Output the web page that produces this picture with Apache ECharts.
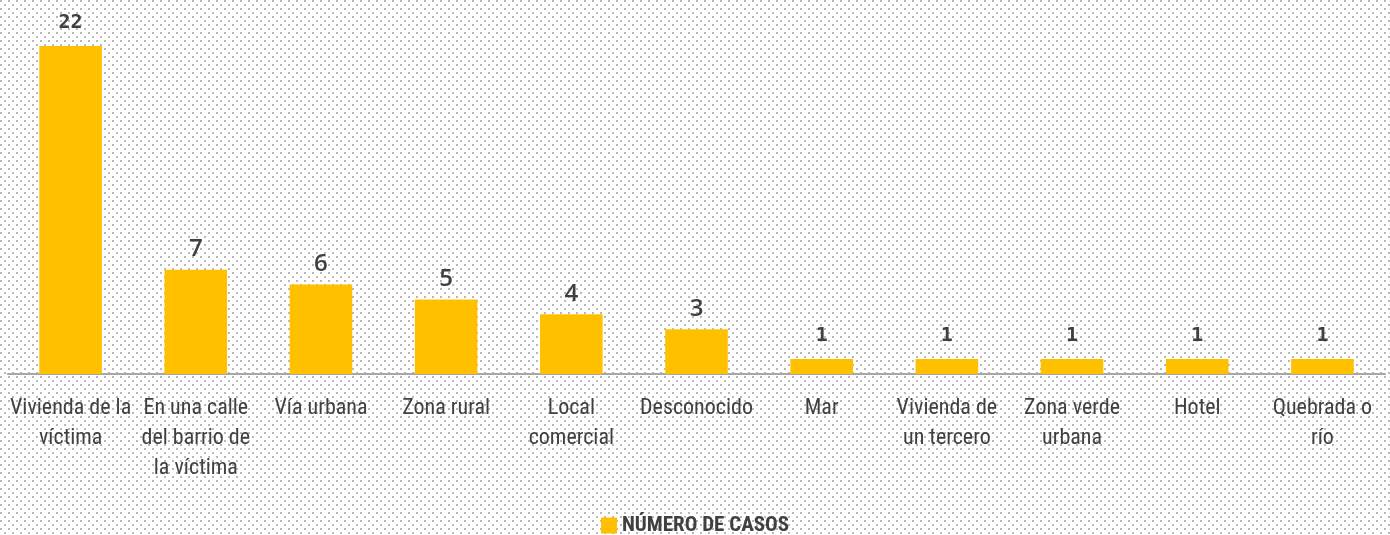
<!DOCTYPE html>
<html>
<head>
<meta charset="utf-8">
<script src="https://cdn.jsdelivr.net/npm/echarts@6/dist/echarts.min.js"></script>
<style>
  html, body { margin: 0; padding: 0; background: #fff; }
  #chart { width: 1390px; height: 535px; }
</style>
</head>
<body>
<div id="chart"></div>
<script>
var categories = [
  "Vivienda de la\nvíctima",
  "En una calle\ndel barrio de\nla víctima",
  "Vía urbana",
  "Zona rural",
  "Local\ncomercial",
  "Desconocido",
  "Mar",
  "Vivienda de\nun tercero",
  "Zona verde\nurbana",
  "Hotel",
  "Quebrada o\nrío"
];
var casos = [22, 7, 6, 5, 4, 3, 1, 1, 1, 1, 1];
var seriesName = "NÚMERO DE CASOS";

// fondo punteado
var tile = document.createElement("canvas");
tile.width = 8;
tile.height = 8;
var ctx = tile.getContext("2d");
ctx.fillStyle = "#fff";
ctx.fillRect(0, 0, 8, 8);
ctx.fillStyle = "#b8b8b8";
ctx.fillRect(0, 0, 2, 2);
ctx.fillRect(4, 4, 2, 2);

var chart = echarts.init(document.getElementById("chart"));

var option = {
  backgroundColor: { image: tile, repeat: "repeat" },
  animation: false,
  grid: { left: 8, right: 5, top: 46, bottom: 161 },
  legend: {
    top: 510,
    left: "center",
    icon: "rect",
    itemWidth: 16,
    itemHeight: 16,
    itemGap: 4,
    textStyle: {
      fontFamily: "Roboto Condensed",
      fontWeight: "bold",
      fontSize: 21,
      color: "#404040"
    },
    data: [seriesName]
  },
  xAxis: {
    type: "category",
    data: categories,
    axisLine: { lineStyle: { color: "#a6a6a6", width: 2 } },
    axisTick: { length: 9, lineStyle: { color: "#a6a6a6", width: 1.5 } },
    axisLabel: {
      interval: 0,
      margin: 19,
      fontFamily: "Roboto Condensed",
      fontSize: 22,
      lineHeight: 30,
      color: "#404040"
    }
  },
  yAxis: {
    type: "value",
    min: 0,
    max: 22,
    show: false,
    splitLine: { show: false }
  },
  series: [
    {
      name: seriesName,
      type: "bar",
      data: casos,
      barCategoryGap: "50%",
      itemStyle: { color: "#FFC000" },
      label: {
        show: true,
        position: "top",
        distance: 8,
        formatter: function (p) {
          return (p.value >= 10 || p.value === 1) ? "{m|" + p.value + "}" : "{s|" + p.value + "}";
        },
        rich: {
          m: {
            fontFamily: "DejaVu Sans Mono",
            fontWeight: "bold",
            fontSize: 20,
            color: "#404040",
            padding: [0, 0, 5, 0]
          },
          s: {
            fontFamily: "Open Sans",
            fontWeight: 600,
            fontSize: 24,
            color: "#404040"
          }
        }
      }
    }
  ]
};

chart.setOption(option);
</script>
</body>
</html>
